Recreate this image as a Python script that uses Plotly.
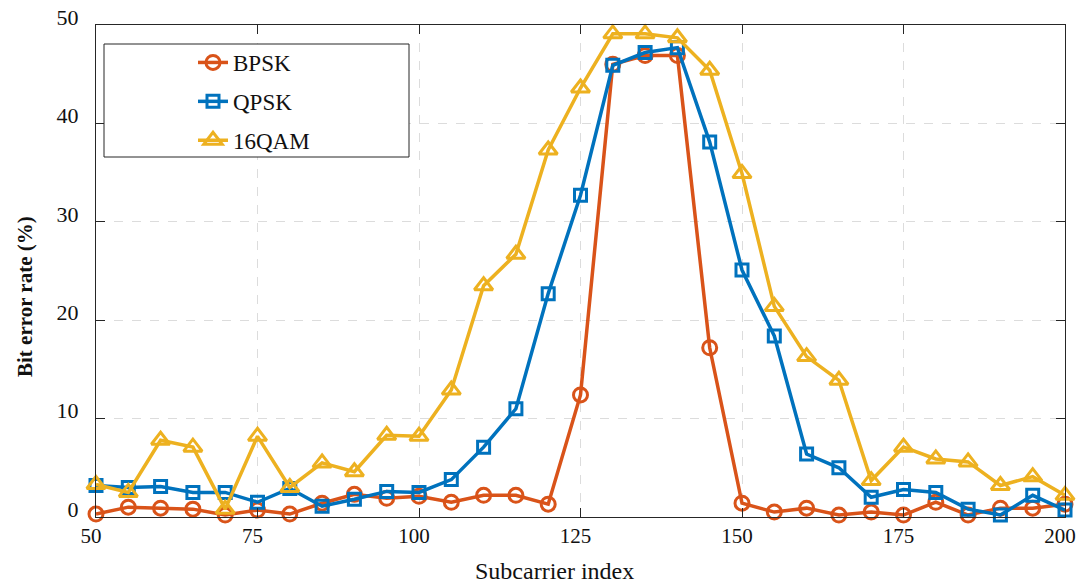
import plotly.graph_objects as go

# Subcarrier indices (every 5th subcarrier)
subcarrier = list(range(50, 201, 5))

# Bit error rate (%) per modulation
ber_bpsk = [0.3, 1.0, 0.9, 0.8, 0.2, 0.7, 0.3, 1.4, 2.3, 1.9, 2.1,
            1.5, 2.2, 2.2, 1.3, 12.4, 46.0, 46.9, 46.9, 17.2, 1.4,
            0.5, 0.9, 0.2, 0.5, 0.2, 1.5, 0.2, 0.9, 0.9, 1.3]
ber_qpsk = [3.2, 3.0, 3.1, 2.5, 2.5, 1.5, 2.9, 1.1, 1.8, 2.6, 2.5,
            3.8, 7.1, 11.0, 22.7, 32.7, 45.9, 47.2, 47.7, 38.1, 25.1,
            18.4, 6.4, 5.0, 2.0, 2.8, 2.5, 0.8, 0.2, 2.2, 0.7]
ber_16qam = [3.3, 2.5, 7.8, 7.1, 0.8, 8.2, 3.0, 5.5, 4.6, 8.3, 8.2,
             12.9, 23.5, 26.7, 37.3, 43.6, 49.1, 49.1, 48.7, 45.4, 34.9,
             21.4, 16.3, 13.9, 3.7, 7.1, 5.9, 5.6, 3.2, 4.1, 2.2]

x_ticks = [50, 75, 100, 125, 150, 175, 200]
y_ticks = [0, 10, 20, 30, 40, 50]

x_title = "Subcarrier index"
y_title = "<b>Bit error rate (%)</b>"

series = [
    ("BPSK", ber_bpsk, "#D95319", "circle-open", 14),
    ("QPSK", ber_qpsk, "#0072BD", "square-open", 12),
    ("16QAM", ber_16qam, "#EDB120", "triangle-up-open", 16),
]

SERIF = "Liberation Serif"
AXIS_COLOR = "#262626"
TEXT_COLOR = "#111111"

fig = go.Figure()
for i, (name, vals, color, symbol, size) in enumerate(series):
    fig.add_trace(go.Scatter(
        x=subcarrier, y=vals, name=name, mode="lines+markers",
        legendgroup=f"g{i}",
        line=dict(color=color, width=3.5),
        marker=dict(symbol=symbol, size=size, color=color,
                    line=dict(color=color, width=3)),
        cliponaxis=False,
    ))

# Plot-area geometry in pixels
L, R, T, B = 96, 1065, 25, 517
W, H = R - L, B - T


def px_x(px):
    return (px - L) / W


def px_y(py):
    return (B - py) / H


# Outer frame of the legend
fig.add_shape(type="rect", xref="paper", yref="paper",
              x0=px_x(104), x1=px_x(409), y0=px_y(157), y1=px_y(44),
              line=dict(color=AXIS_COLOR, width=1), fillcolor="white",
              layer="above")

# Axis titles
fig.add_annotation(text=x_title, xref="paper", yref="paper",
                   x=px_x(554), y=px_y(571), xanchor="center", yanchor="middle",
                   showarrow=False,
                   font=dict(family=SERIF, size=24, color=TEXT_COLOR))
fig.add_annotation(text=y_title, xref="paper", yref="paper", textangle=-90,
                   x=px_x(25), y=px_y(297), xanchor="center", yanchor="middle",
                   showarrow=False,
                   font=dict(family=SERIF, size=21, color=TEXT_COLOR))

fig.update_layout(
    width=1078, height=583,
    margin=dict(l=L, r=1078 - R, t=T, b=583 - B, autoexpand=False),
    paper_bgcolor="white", plot_bgcolor="white",
    font=dict(family=SERIF, size=18, color=AXIS_COLOR),
    showlegend=True,
    legend=dict(
        x=px_x(193), y=px_y(41), xanchor="left", yanchor="top",
        bgcolor="rgba(0,0,0,0)", borderwidth=0,
        font=dict(family=SERIF, size=23, color=TEXT_COLOR),
        tracegroupgap=6,
    ),
    xaxis=dict(
        range=[50, 200], tickmode="array", tickvals=x_ticks,
        ticks="inside", ticklen=9, tickcolor=AXIS_COLOR,
        showline=True, linecolor=AXIS_COLOR, linewidth=1.2, mirror="ticks",
        showgrid=True, gridcolor="#dcdcdc", griddash="dash", gridwidth=1,
        zeroline=False, ticklabeloverflow="allow", automargin=False,
        ticklabelshift=-5,
        tickfont=dict(family=SERIF, size=21, color=TEXT_COLOR),
    ),
    yaxis=dict(
        range=[0, 50], tickmode="array", tickvals=y_ticks,
        ticks="inside", ticklen=9, tickcolor=AXIS_COLOR,
        showline=True, linecolor=AXIS_COLOR, linewidth=1.2, mirror="ticks",
        showgrid=True, gridcolor="#dcdcdc", griddash="dash", gridwidth=1,
        zeroline=False, automargin=False,
        tickfont=dict(family=SERIF, size=22, color=TEXT_COLOR),
        ticklabelstandoff=12, ticklabelshift=-8,
    ),
)

fig.write_html("out.html")
